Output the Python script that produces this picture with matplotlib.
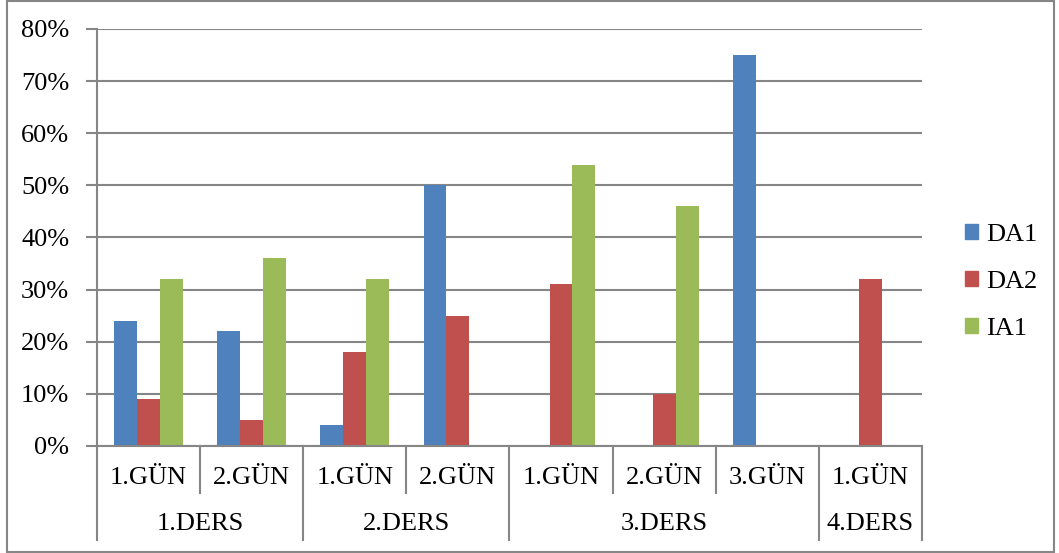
import matplotlib.pyplot as plt
import matplotlib.transforms as mtransforms
from matplotlib.patches import Patch, Rectangle
import numpy as np

plt.rcParams['font.family'] = ['Liberation Serif', 'DejaVu Serif']

# Category labels (two levels) and series values in percent
days = ['1.GÜN', '2.GÜN', '1.GÜN', '2.GÜN', '1.GÜN', '2.GÜN', '3.GÜN', '1.GÜN']
lessons = ['1.DERS', '2.DERS', '3.DERS', '4.DERS']
lesson_sizes = [2, 2, 3, 1]
da1 = [24, 22, 4, 50, 0, 0, 75, 0]
da2 = [9, 5, 18, 25, 31, 10, 0, 32]
ia1 = [32, 36, 32, 0, 54, 46, 0, 0]
series_names = ['DA1', 'DA2', 'IA1']
colors = ['#4F81BD', '#C0504D', '#9BBB59']
grid_c = '#868686'
fs = 19

fig = plt.figure(figsize=(10.59, 5.53), dpi=100)
ax = fig.add_axes([0.0916, 0.1935, 0.7790, 0.7541])

x = np.arange(len(days)) + 0.5
w = 0.222
for k, vals in enumerate([da1, da2, ia1]):
    ax.bar(x + (k - 1) * w, np.array(vals) / 100, width=w, color=colors[k], zorder=3)

ax.set_xlim(0, len(days))
ax.set_ylim(0, 0.8)
ax.set_yticks(np.arange(0, 0.81, 0.1))
ax.set_yticklabels([f'{int(round(v * 100))}%' for v in np.arange(0, 0.81, 0.1)])
ax.yaxis.grid(True, color=grid_c, linewidth=1.5, zorder=0)
ax.tick_params(axis='y', length=8, width=1.5, color=grid_c, pad=12, labelsize=fs)
ax.set_xticks([])
for s in ['top', 'right']:
    ax.spines[s].set_visible(False)
ax.spines['left'].set_color(grid_c)
ax.spines['left'].set_linewidth(1.5)
ax.spines['bottom'].set_color(grid_c)
ax.spines['bottom'].set_linewidth(1.5)
ax.spines['bottom'].set_zorder(4)

# Two-level category axis with separator lines
trans = mtransforms.blended_transform_factory(ax.transData, ax.transAxes)
day_bottom = -0.113
lesson_bottom = -0.226
bounds = np.cumsum([0] + lesson_sizes)
for i in range(len(days) + 1):
    y_end = lesson_bottom if i in bounds else day_bottom
    ax.plot([i, i], [0, y_end], color=grid_c, linewidth=1.5, transform=trans, clip_on=False)
for i, d in enumerate(days):
    ax.text(i + 0.5, -0.077, d, transform=trans, ha='center', va='center', fontsize=fs)
for j, name in enumerate(lessons):
    ax.text((bounds[j] + bounds[j + 1]) / 2, -0.187, name, transform=trans,
            ha='center', va='center', fontsize=fs)

handles = [Patch(color=c) for c in colors]
fig.legend(handles, series_names, loc='center left', bbox_to_anchor=(0.889, 0.49),
           frameon=False, fontsize=fs, handlelength=0.5, handleheight=0.5,
           handletextpad=0.3, labelspacing=0.95)

# Outer chart frame
fig.patches.append(Rectangle((0.007, 0.001), 0.988, 0.997, transform=fig.transFigure,
                             fill=False, edgecolor=grid_c, linewidth=1.5))

fig.savefig('out.png', dpi=100)
